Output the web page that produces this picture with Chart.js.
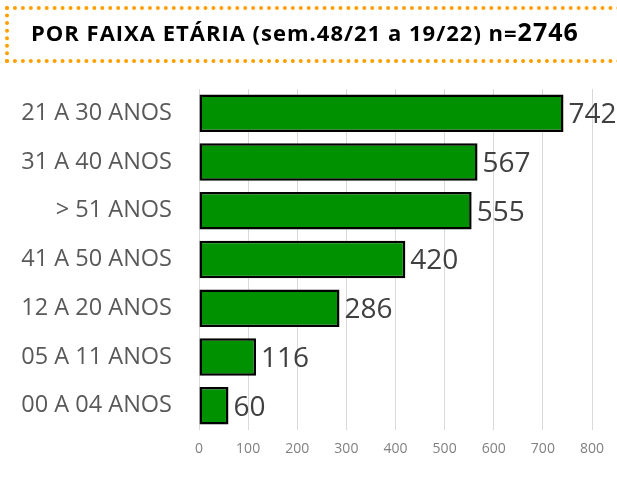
<!DOCTYPE html>
<html>
<head>
<meta charset="utf-8">
<script src="https://cdn.jsdelivr.net/npm/chart.js@4.4.0/dist/chart.umd.min.js"></script>
<style>
  html, body { margin: 0; padding: 0; background: #fff; }
  #wrap { position: relative; width: 617px; height: 482px; overflow: hidden; }
  #title {
    position: absolute; left: 5px; top: 6px; width: 640px; height: 57px;
    border: 4px dotted #ffa000; box-sizing: border-box;
    font-family: "Open Sans", sans-serif; font-weight: bold; font-size: 22px;
    letter-spacing: 1px; color: #000; line-height: 42px; padding-left: 22px; white-space: nowrap;
  }
  #title .n { font-size: 25px; }
  canvas { position: absolute; left: 0; top: 0; }
</style>
</head>
<body>
<div id="wrap">
  <canvas id="ageChart" width="617" height="482"></canvas>
  <div id="title">POR FAIXA ETÁRIA (sem.48/21 a 19/22) n=<span class="n">2746</span></div>
</div>
<script>
// age groups, sorted as in the picture
const ageGroups = ['21 A 30 ANOS', '31 A 40 ANOS', '> 51 ANOS', '41 A 50 ANOS', '12 A 20 ANOS', '05 A 11 ANOS', '00 A 04 ANOS'];
const cases = [742, 567, 555, 420, 286, 116, 60];
const xTicks = [0, 100, 200, 300, 400, 500, 600, 700, 800];

// draws the value just right of each bar
const valueLabels = {
    id: 'valueLabels',
    afterDatasetsDraw(chart) {
        const ctx = chart.ctx;
        const meta = chart.getDatasetMeta(0);
        ctx.save();
        ctx.font = '28px "Open Sans", sans-serif';
        ctx.fillStyle = '#404040';
        ctx.textAlign = 'left';
        ctx.textBaseline = 'middle';
        meta.data.forEach((bar, i) => {
            ctx.fillText(cases[i], bar.x + 5, bar.y + 2);
        });
        ctx.restore();
    }
};

const ctx = document.getElementById('ageChart').getContext('2d');
new Chart(ctx, {
    type: 'bar',
    data: {
        labels: ageGroups,
        datasets: [{
            data: cases,
            backgroundColor: '#009100',
            borderColor: '#000000',
            borderWidth: 2.5,
            borderSkipped: false,
            categoryPercentage: 1,
            barPercentage: 0.77
        }]
    },
    options: {
        indexAxis: 'y',
        responsive: false,
        animation: false,
        layout: { padding: { top: 89, right: 25, left: 0, bottom: 0 } },
        plugins: { legend: { display: false }, tooltip: { enabled: false } },
        scales: {
            x: {
                min: 0,
                max: 800,
                afterBuildTicks: axis => { axis.ticks = xTicks.map(v => ({ value: v })); },
                afterFit: axis => { axis.height = 52; },
                grid: { color: '#d9d9d9', lineWidth: 1, drawTicks: false },
                border: { display: false },
                ticks: { color: '#808080', padding: 11, font: { family: 'Open Sans', size: 14 } }
            },
            y: {
                afterFit: axis => { axis.width = 199; },
                grid: { display: false, drawTicks: false },
                border: { display: false },
                ticks: { color: '#595959', padding: 27, font: { family: 'Open Sans', size: 23.5 } }
            }
        }
    },
    plugins: [valueLabels]
});
</script>
</body>
</html>
